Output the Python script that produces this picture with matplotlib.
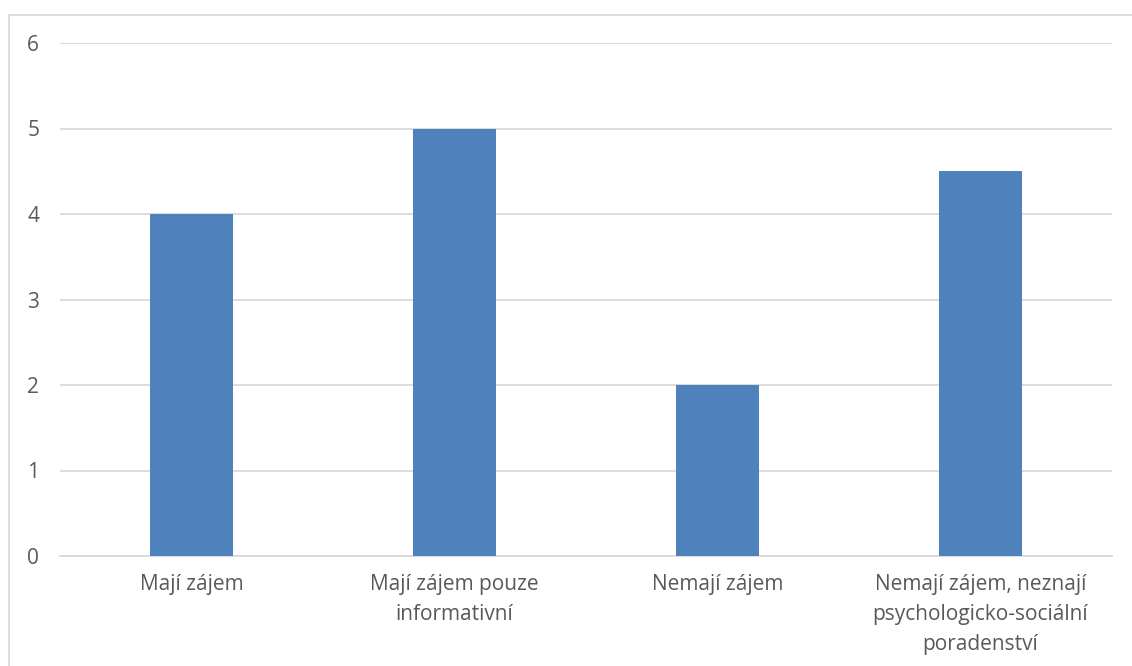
import matplotlib
matplotlib.use("Agg")
import matplotlib.pyplot as plt
from matplotlib.patches import Rectangle

categories = [
    "Mají zájem",
    "Mají zájem pouze\ninformativní",
    "Nemají zájem",
    "Nemají zájem, neznají\npsychologicko-sociální\nporadenství",
]
values = [4, 5, 2, 4.5]
yticks = [0, 1, 2, 3, 4, 5, 6]

W, H = 1132, 666
fig = plt.figure(figsize=(W / 100, H / 100), dpi=100)
fig.patch.set_facecolor("white")

# outer chart-area border
fig.add_artist(Rectangle((8.5 / W, -0.1), 1.2, (H - 14.5) / H + 0.1,
                         transform=fig.transFigure, fill=False,
                         edgecolor="#d9d9d9", linewidth=1.3))

ax = fig.add_axes([60 / W, 110 / H, (1112 - 60) / W, (556 - 43) / H])
ax.set_facecolor("white")

x = range(len(categories))
ax.bar(x, values, width=0.316, color="#4f81bd", zorder=3)

ax.set_xlim(-0.5, len(categories) - 0.5)
ax.set_ylim(0, 6)
ax.set_yticks(yticks)
ax.set_yticklabels([str(t) for t in yticks])
ax.set_xticks(list(x))
ax.set_xticklabels(categories, linespacing=1.57)

ax.grid(axis="y", color="#d9d9d9", linewidth=1.3, zorder=0)
for s in ["top", "right", "left"]:
    ax.spines[s].set_visible(False)
ax.spines["bottom"].set_color("#d9d9d9")
ax.spines["bottom"].set_linewidth(1.3)

ax.tick_params(axis="both", length=0, labelsize=15, labelcolor="#595959")
ax.tick_params(axis="y", pad=15)
ax.tick_params(axis="x", pad=13)
for lbl in ax.get_xticklabels() + ax.get_yticklabels():
    lbl.set_family("Open Sans")

fig.savefig("out.png", dpi=100)
